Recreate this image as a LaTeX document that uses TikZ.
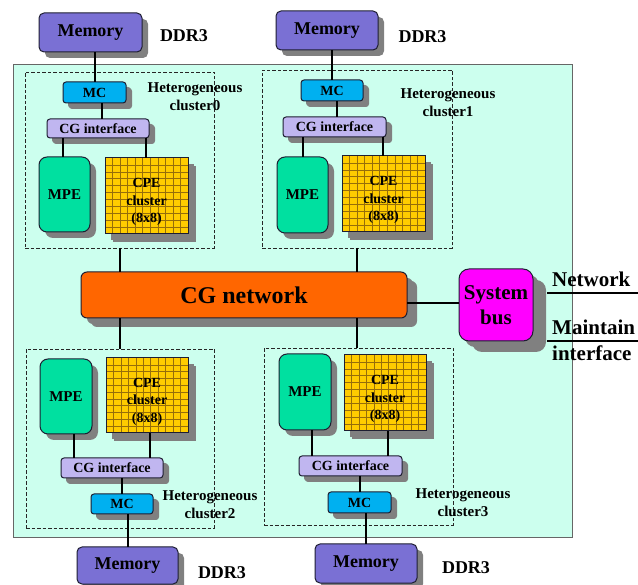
\documentclass[tikz,border=0pt]{standalone}
\usepackage{fontspec}
\setmainfont{Liberation Serif}
\usetikzlibrary{shadows,calc}
\definecolor{bgcyan}{RGB}{204,255,238}
\definecolor{memcol}{RGB}{122,112,212}
\definecolor{mccol}{RGB}{0,176,240}
\definecolor{cgcol}{RGB}{192,182,240}
\definecolor{mpecol}{RGB}{0,224,160}
\definecolor{cpecol}{RGB}{255,204,0}
\definecolor{gridcol}{RGB}{150,110,10}
\definecolor{netcol}{RGB}{255,102,0}
\definecolor{buscol}{RGB}{255,0,255}
\definecolor{edgecol}{RGB}{30,30,50}
\definecolor{shadcol}{RGB}{128,128,128}
\begin{document}
\begin{tikzpicture}[x=1pt,y=-1pt,
  box/.style={draw=edgecol, line width=1pt, inner sep=0pt, outer sep=0pt,
    text=black, align=center,
    drop shadow={shadow xshift=6pt, shadow yshift=-6pt, fill=shadcol, opacity=1}},
  membox/.style={box, fill=memcol, rounded corners=5pt, font=\fontsize{18}{21}\selectfont\bfseries},
  mcbox/.style={box, fill=mccol, rounded corners=3pt, font=\fontsize{14}{16}\selectfont\bfseries,
    drop shadow={shadow xshift=5pt, shadow yshift=-5pt, fill=shadcol, opacity=1}},
  cgbox/.style={box, fill=cgcol, rounded corners=3pt, font=\fontsize{14}{16}\selectfont\bfseries,
    drop shadow={shadow xshift=5pt, shadow yshift=-5pt, fill=shadcol, opacity=1}},
  mpebox/.style={box, fill=mpecol, rounded corners=8pt, font=\fontsize{15}{18}\selectfont\bfseries},
  cpebox/.style={box, fill=cpecol, font=\fontsize{14}{17.5}\selectfont\bfseries,
    drop shadow={shadow xshift=8pt, shadow yshift=-8pt, fill=shadcol, opacity=1},
    path picture={
      \foreach \i in {1,...,10}{
        \draw[gridcol, line width=0.5pt]
          ($(path picture bounding box.north west)!\i/11!(path picture bounding box.north east)$) --
          ($(path picture bounding box.south west)!\i/11!(path picture bounding box.south east)$);}
      \foreach \j in {1,...,10}{
        \draw[gridcol, line width=0.5pt]
          ($(path picture bounding box.north west)!\j/11!(path picture bounding box.south west)$) --
          ($(path picture bounding box.north east)!\j/11!(path picture bounding box.south east)$);}
    }},
  netbox/.style={box, fill=netcol, rounded corners=6pt, font=\fontsize{24}{28}\selectfont\bfseries,
    drop shadow={shadow xshift=10pt, shadow yshift=-9pt, fill=shadcol, opacity=1}},
  busbox/.style={box, fill=buscol, rounded corners=10pt, font=\fontsize{21}{25}\selectfont\bfseries,
    drop shadow={shadow xshift=13pt, shadow yshift=-11pt, fill=shadcol, opacity=1}},
  cluster/.style={draw=black!85, dash pattern=on 3.5pt off 2pt, line width=0.9pt, inner sep=0pt, outer sep=0pt},
  ddr/.style={font=\fontsize{18}{21}\selectfont\bfseries, inner sep=0pt},
  hlabel/.style={font=\fontsize{15}{18}\selectfont\bfseries, align=center, inner sep=0pt},
  ext/.style={font=\fontsize{21}{26}\selectfont\bfseries, align=left, inner sep=0pt, anchor=base west},
  conn/.style={draw=black, line width=1.2pt}
]
\useasboundingbox (0,0) rectangle (638,585);
\fill[white] (0,0) rectangle (638,585);
% chip background
\node[draw=black!60, fill=bgcyan, line width=0.6pt, minimum width=559pt, minimum height=473pt, inner sep=0pt] (chip) at (292.5,300.5) {};

% clusters (dashed)
\node[cluster, minimum width=189pt, minimum height=176pt] (cl0) at (119.5,160) {};
\node[cluster, minimum width=190pt, minimum height=178pt] (cl1) at (357,159) {};
\node[cluster, minimum width=188pt, minimum height=179pt] (cl2) at (120,438.5) {};
\node[cluster, minimum width=189pt, minimum height=177pt] (cl3) at (358.5,436.5) {};

% cluster 0
\node[membox, minimum width=103pt, minimum height=39pt] (mem0) at (90.5,32.5) {Memory};
\node[mcbox, minimum width=63pt, minimum height=21pt] (mc0) at (94.5,92.5) {MC};
\node[cgbox, minimum width=102pt, minimum height=19pt] (cg0) at (98,128.5) {CG interface};
\node[mpebox, minimum width=51pt, minimum height=75pt] (mpe0) at (64.5,194.5) {MPE};
\node[cpebox, minimum width=83pt, minimum height=76pt] (cpe0) at (146.5,196) {\rule{0pt}{21pt}CPE\\cluster\\(8x8)};

% cluster 1
\node[membox, minimum width=102pt, minimum height=39pt] (mem1) at (327,30.5) {Memory};
\node[mcbox, minimum width=62pt, minimum height=21pt] (mc1) at (332,90.5) {MC};
\node[cgbox, minimum width=103pt, minimum height=20pt] (cg1) at (334.5,127) {CG interface};
\node[mpebox, minimum width=51pt, minimum height=76pt] (mpe1) at (302.5,195) {MPE};
\node[cpebox, minimum width=83pt, minimum height=76pt] (cpe1) at (383.5,194) {\rule{0pt}{21pt}CPE\\cluster\\(8x8)};

% cluster 2
\node[mpebox, minimum width=52pt, minimum height=75pt] (mpe2) at (66,396.5) {MPE};
\node[cpebox, minimum width=82pt, minimum height=75pt] (cpe2) at (147,395.5) {\rule{0pt}{21pt}CPE\\cluster\\(8x8)};
\node[cgbox, minimum width=102pt, minimum height=20pt] (cg2) at (112,468) {CG interface};
\node[mcbox, minimum width=62pt, minimum height=20pt] (mc2) at (122,504) {MC};
\node[membox, minimum width=101pt, minimum height=37pt] (mem2) at (127.5,565.5) {Memory};

% cluster 3
\node[mpebox, minimum width=52pt, minimum height=76pt] (mpe3) at (305,392) {MPE};
\node[cpebox, minimum width=82pt, minimum height=76pt] (cpe3) at (385,393) {\rule{0pt}{21pt}CPE\\cluster\\(8x8)};
\node[cgbox, minimum width=103pt, minimum height=20pt] (cg3) at (350.5,466) {CG interface};
\node[mcbox, minimum width=63pt, minimum height=21pt] (mc3) at (359.5,502.5) {MC};
\node[membox, minimum width=102pt, minimum height=39pt] (mem3) at (366,563.5) {Memory};

% network and system bus
\node[netbox, minimum width=326pt, minimum height=46pt] (net) at (244,295) {CG network};
\node[busbox, minimum width=74pt, minimum height=72pt] (bus) at (496,305) {System\\bus};

% labels
\node[ddr] (d0) at (184,36) {DDR3};
\node[ddr] (d1) at (422.5,37) {DDR3};
\node[ddr] (d2) at (222,573) {DDR3};
\node[ddr] (d3) at (466,568) {DDR3};
\node[hlabel] (h0) at (195,97) {Heterogeneous\\cluster0};
\node[hlabel] (h1) at (448,103) {Heterogeneous\\cluster1};
\node[hlabel] (h2) at (210,505) {Heterogeneous\\cluster2};
\node[hlabel] (h3) at (463,503) {Heterogeneous\\cluster3};
\node[ext] (tnet) at (552,287) {Network};
\node[ext] (tmnt) at (552,361) {Maintain\\interface};

% connectors cluster 0
\draw[conn] ([xshift=4.5pt]mem0.south) -- ([xshift=0.5pt]mc0.north);
\draw[conn] ([xshift=7.5pt]mc0.south) -- ([xshift=4pt]cg0.north);
\draw[conn] ([xshift=-35pt]cg0.south) -- ([xshift=-1.5pt]mpe0.north);
\draw[conn] ([xshift=48pt]cg0.south) -- ([xshift=-0.5pt]cpe0.north);
\draw[conn] ([xshift=0.5pt]cl0.south) -- ([xshift=-124pt]net.north);
% cluster 1
\draw[conn] ([xshift=5pt]mem1.south) -- (mc1.north);
\draw[conn] ([xshift=5pt]mc1.south) -- ([xshift=2.5pt]cg1.north);
\draw[conn] ([xshift=-31.5pt]cg1.south) -- ([xshift=0.5pt]mpe1.north);
\draw[conn] ([xshift=48.5pt]cg1.south) -- ([xshift=-0.5pt]cpe1.north);
\draw[conn] (cl1.south) -- ([xshift=113pt]net.north);
% cluster 2
\draw[conn] ([xshift=-124pt]net.south) -- (cl2.north);
\draw[conn] ([xshift=8pt]mpe2.south) -- ([xshift=-38pt]cg2.north);
\draw[conn] ([xshift=3pt]cpe2.south) -- ([xshift=38pt]cg2.north);
\draw[conn] ([xshift=10pt]cg2.south) -- (mc2.north);
\draw[conn] ([xshift=6pt]mc2.south) -- ([xshift=0.5pt]mem2.north);
% cluster 3
\draw[conn] ([xshift=113pt]net.south) -- ([xshift=-1.5pt]cl3.north);
\draw[conn] ([xshift=7pt]mpe3.south) -- ([xshift=-38.5pt]cg3.north);
\draw[conn] ([xshift=3pt]cpe3.south) -- ([xshift=37.5pt]cg3.north);
\draw[conn] ([xshift=9.5pt]cg3.south) -- ([xshift=0.5pt]mc3.north);
\draw[conn] ([xshift=6.5pt]mc3.south) -- (mem3.north);
% network to bus and outside
\coordinate (netend) at (638,293);
\coordinate (mntend) at (638,341);
\draw[conn] ([yshift=-8pt]net.east) -- ([yshift=2pt]bus.west);
\draw[conn] ([xshift=14pt,yshift=12pt]bus.east) -- (netend);
\draw[conn] ([xshift=14pt]bus.south east) -- (mntend);
\end{tikzpicture}
\end{document}
